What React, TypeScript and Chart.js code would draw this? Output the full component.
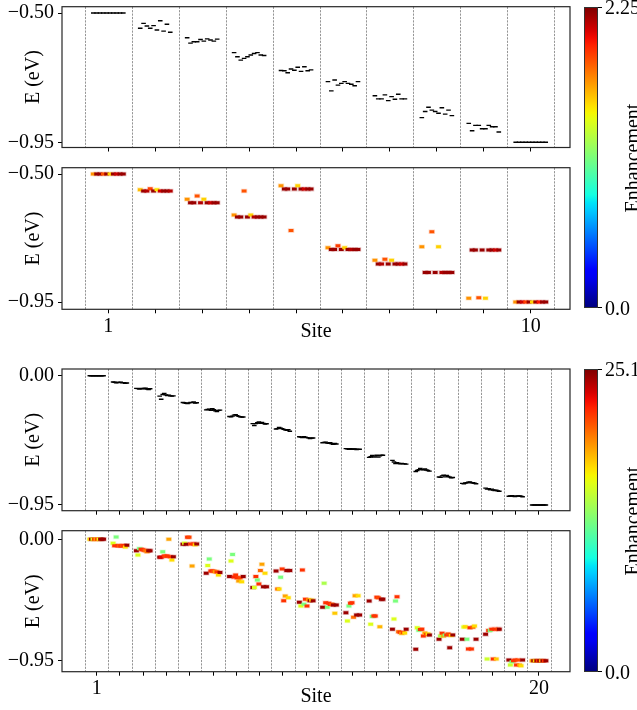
import React, { useEffect, useRef } from 'react';
import { Chart, registerables } from 'chart.js';

Chart.register(...registerables);

const FONT = "'Liberation Serif', 'Times New Roman', Times, serif";

// ---------------- data ----------------
const TOP_SITES = [1, 2, 3, 4, 5, 6, 7, 8, 9, 10];
const BOTTOM_SITES = [1, 2, 3, 4, 5, 6, 7, 8, 9, 10, 11, 12, 13, 14, 15, 16, 17, 18, 19, 20];
const TOP_Y_TICKS = [-0.95, -0.5];
const BOTTOM_Y_TICKS = [-0.95, 0.0];
const TOP_G_MAX = 2.25;
const BOTTOM_G_MAX = 25.1;
const TOP_G_LABELS = ['2.25', '0.0'];
const BOTTOM_G_LABELS = ['25.1', '0.0'];

// Panel A: bare energies, 10 sites
const E_BARE_10 = [
  [-0.5, -0.5, -0.5, -0.5, -0.5, -0.5, -0.5, -0.5, -0.5, -0.5],
  [-0.553, -0.536, -0.545, -0.553, -0.544, -0.559, -0.527, -0.563, -0.539, -0.567],
  [-0.586, -0.605, -0.6, -0.6, -0.592, -0.598, -0.59, -0.594, -0.598, -0.591],
  [-0.638, -0.652, -0.664, -0.658, -0.652, -0.646, -0.641, -0.638, -0.646, -0.648],
  [-0.7, -0.701, -0.708, -0.695, -0.699, -0.689, -0.703, -0.687, -0.701, -0.698],
  [-0.739, -0.771, -0.733, -0.751, -0.745, -0.739, -0.745, -0.748, -0.753, -0.739],
  [-0.788, -0.799, -0.799, -0.785, -0.805, -0.791, -0.8, -0.783, -0.799, -0.799],
  [-0.864, -0.843, -0.828, -0.838, -0.843, -0.849, -0.83, -0.852, -0.838, -0.857],
  [-0.884, -0.91, -0.891, -0.891, -0.903, -0.903, -0.891, -0.896, -0.896, -0.914],
  [-0.95, -0.95, -0.95, -0.95, -0.95, -0.95, -0.95, -0.95, -0.95, -0.95],
];

// Panel B: coupled energies + enhancement, 10 sites
const E_COUPLED_10 = [
  [-0.5, -0.5, -0.5, -0.5, -0.5, -0.5, -0.5, -0.5, -0.5, -0.5],
  [-0.555, -0.56, -0.56, -0.552, -0.56, -0.555, -0.56, -0.56, -0.56, -0.56],
  [-0.589, -0.601, -0.601, -0.577, -0.601, -0.589, -0.601, -0.601, -0.601, -0.601],
  [-0.644, -0.651, -0.651, -0.56, -0.651, -0.644, -0.651, -0.651, -0.651, -0.651],
  [-0.541, -0.553, -0.553, -0.699, -0.553, -0.541, -0.553, -0.553, -0.553, -0.553],
  [-0.759, -0.765, -0.765, -0.752, -0.765, -0.759, -0.765, -0.765, -0.765, -0.765],
  [-0.803, -0.816, -0.816, -0.8, -0.816, -0.803, -0.816, -0.816, -0.816, -0.816],
  [-0.756, -0.846, -0.846, -0.703, -0.846, -0.756, -0.846, -0.846, -0.846, -0.846],
  [-0.937, -0.767, -0.767, -0.935, -0.767, -0.937, -0.767, -0.767, -0.767, -0.767],
  [-0.95, -0.95, -0.95, -0.95, -0.95, -0.95, -0.95, -0.95, -0.95, -0.95],
];
const G_COUPLED_10 = [
  [1.7, 2.2, 2.2, 1.85, 2.2, 1.55, 2.2, 2.1, 2.2, 2.2],
  [1.6, 2.2, 2.15, 1.9, 2.2, 1.5, 2.1, 2.2, 2.2, 2.15],
  [1.7, 2.2, 2.2, 1.85, 2.15, 1.55, 2.2, 2.1, 2.2, 2.2],
  [1.7, 2.2, 2.2, 1.85, 2.2, 1.55, 2.15, 2.2, 2.2, 2.2],
  [1.7, 2.2, 2.2, 1.85, 2.2, 1.55, 2.2, 2.1, 2.2, 2.2],
  [1.7, 2.2, 2.2, 1.9, 2.2, 1.55, 2.2, 2.15, 2.2, 2.2],
  [1.7, 2.2, 2.15, 1.85, 2.2, 1.55, 2.2, 2.2, 2.1, 2.2],
  [1.7, 2.2, 2.2, 1.85, 2.2, 1.55, 2.15, 2.2, 2.2, 2.2],
  [1.7, 2.2, 2.2, 1.85, 2.2, 1.55, 2.2, 2.2, 2.1, 2.2],
  [1.7, 2.2, 2.1, 1.9, 2.2, 1.55, 2.2, 2.0, 2.2, 2.2],
];

// Panel C: bare energies, 20 sites
const E_BARE_20 = [
  [0, 0, 0, 0, 0, 0, 0, 0, 0, 0],
  [-0.046, -0.048, -0.052, -0.05, -0.049, -0.047, -0.053, -0.051, -0.055, -0.054],
  [-0.093, -0.095, -0.099, -0.093, -0.097, -0.094, -0.092, -0.098, -0.101, -0.096],
  [-0.15, -0.173, -0.138, -0.131, -0.141, -0.146, -0.143, -0.148, -0.15, -0.148],
  [-0.197, -0.199, -0.203, -0.205, -0.2, -0.196, -0.198, -0.193, -0.201, -0.199],
  [-0.251, -0.248, -0.246, -0.254, -0.242, -0.249, -0.257, -0.264, -0.255, -0.253],
  [-0.3, -0.302, -0.297, -0.29, -0.286, -0.293, -0.299, -0.302, -0.304, -0.303],
  [-0.352, -0.366, -0.352, -0.345, -0.34, -0.349, -0.343, -0.35, -0.356, -0.353],
  [-0.392, -0.389, -0.38, -0.386, -0.389, -0.394, -0.398, -0.402, -0.397, -0.408],
  [-0.448, -0.451, -0.455, -0.449, -0.452, -0.455, -0.457, -0.461, -0.459, -0.458],
  [-0.493, -0.49, -0.488, -0.495, -0.497, -0.492, -0.5, -0.504, -0.498, -0.502],
  [-0.536, -0.538, -0.54, -0.537, -0.541, -0.539, -0.538, -0.542, -0.541, -0.54],
  [-0.6, -0.595, -0.586, -0.598, -0.591, -0.584, -0.598, -0.589, -0.585, -0.584],
  [-0.622, -0.634, -0.645, -0.64, -0.644, -0.647, -0.645, -0.646, -0.648, -0.65],
  [-0.704, -0.697, -0.69, -0.682, -0.69, -0.692, -0.685, -0.693, -0.697, -0.701],
  [-0.744, -0.747, -0.736, -0.731, -0.743, -0.733, -0.74, -0.745, -0.75, -0.748],
  [-0.791, -0.794, -0.788, -0.786, -0.782, -0.78, -0.787, -0.786, -0.79, -0.794],
  [-0.826, -0.833, -0.83, -0.838, -0.833, -0.84, -0.843, -0.841, -0.846, -0.849],
  [-0.886, -0.884, -0.882, -0.886, -0.887, -0.885, -0.883, -0.884, -0.886, -0.889],
  [-0.95, -0.95, -0.95, -0.95, -0.95, -0.95, -0.95, -0.95, -0.95, -0.95],
];

// Panel D: coupled energies + enhancement, 20 sites
const E_COUPLED_20 = [
  [0, 0, 0, 0, 0, 0, 0, 0, 0, 0],
  [-0.031, -0.05, 0.018, -0.05, -0.05, -0.052, -0.05, -0.048, -0.06, -0.047],
  [-0.089, -0.123, -0.073, -0.078, -0.082, -0.085, -0.09, -0.097, -0.089, -0.089],
  [-0.141, -0.141, -0.097, -0.131, -0.133, -0.131, 0.0, -0.136, -0.162, -0.136],
  [-0.039, -0.031, -0.039, 0.016, 0.016, -0.036, -0.209, -0.036, -0.043, -0.036],
  [-0.266, -0.206, -0.154, -0.248, -0.248, -0.25, -0.253, -0.255, -0.279, -0.259],
  [-0.292, -0.17, -0.118, -0.296, -0.279, -0.3, -0.326, -0.3, -0.332, -0.292],
  [-0.378, -0.378, -0.292, -0.318, -0.35, -0.245, -0.196, -0.371, -0.266, -0.371],
  [-0.248, -0.389, -0.389, -0.297, -0.232, -0.48, -0.444, -0.245, -0.457, -0.245],
  [-0.493, -0.522, -0.24, -0.508, -0.47, -0.522, -0.474, -0.48, -0.476, -0.48],
  [-0.532, -0.344, -0.496, -0.532, -0.5, -0.51, -0.508, -0.514, -0.579, -0.514],
  [-0.574, -0.639, -0.522, -0.5, -0.496, -0.61, -0.441, -0.592, -0.441, -0.592],
  [-0.483, -0.665, -0.604, -0.6, -0.6, -0.454, -0.457, -0.684, -0.47, -0.47],
  [-0.704, -0.624, -0.483, -0.449, -0.723, -0.727, -0.736, -0.73, -0.733, -0.704],
  [-0.861, -0.692, -0.712, -0.706, -0.704, -0.757, -0.733, -0.745, -0.741, -0.749],
  [-0.782, -0.757, -0.736, -0.757, -0.749, -0.749, -0.741, -0.848, -0.752, -0.749],
  [-0.782, -0.686, -0.684, -0.782, -0.858, -0.692, -0.858, -0.688, -0.678, -0.782],
  [-0.744, -0.937, -0.713, -0.713, -0.703, -0.937, -0.703, -0.937, -0.703, -0.703],
  [-0.945, -0.984, -0.958, -0.95, -0.945, -0.984, -0.945, -0.984, -0.99, -0.945],
  [-0.95, -0.95, -0.95, -0.95, -0.95, -0.95, -0.95, -0.95, -0.95, -0.95],
];
const G_COUPLED_20 = [
  [17, 24.5, 15.5, 21.5, 18.5, 21.5, 16, 24.5, 24.5, 24.5],
  [15.5, 21.5, 12.5, 21.5, 20.5, 21.5, 21, 21.5, 17, 24.5],
  [24.5, 15.5, 12.5, 21.5, 21.5, 21, 20, 19.5, 24.5, 24.5],
  [24.5, 23, 12.5, 21.5, 21, 21.5, 18.5, 21.5, 17, 24.5],
  [24.5, 15.5, 24.5, 21.5, 21, 21.5, 18.5, 21.5, 17, 24.5],
  [24.5, 15.5, 12.5, 21.5, 21.5, 20.5, 18.5, 21.5, 17, 24.5],
  [24.5, 15.5, 12.5, 22, 21.5, 21.5, 18.5, 21, 17, 24.5],
  [24.5, 15.5, 21.5, 12.5, 21.5, 20, 18.5, 24.5, 17, 24.5],
  [24.5, 20, 17, 12.5, 21.5, 21.5, 18.5, 24.5, 17, 24.5],
  [24.5, 15.5, 21.5, 12.5, 21.5, 21.5, 18.5, 24.5, 17, 24.5],
  [24.5, 14, 21.5, 12.5, 21.5, 21.5, 20.5, 24.5, 17.5, 24.5],
  [24.5, 15.5, 12.5, 21.5, 21.5, 20, 18.5, 24.5, 17, 24.5],
  [24.5, 15.5, 12.5, 21.5, 21.5, 21.5, 21, 18, 24.5, 24.5],
  [24.5, 15.5, 12.5, 21.5, 20, 21.5, 18.5, 21, 17, 24.5],
  [24.5, 15.5, 12.5, 21.5, 21.5, 21.5, 18.5, 21, 17, 24.5],
  [24.5, 14, 21.5, 18.5, 12.5, 21.5, 21, 24.5, 17.5, 24.5],
  [24.5, 15.5, 17, 12.5, 21.5, 21.5, 21.5, 20, 17, 24.5],
  [24.5, 15, 21.5, 12.5, 21.5, 21.5, 21.5, 17.5, 21, 24.5],
  [24.5, 15, 12.5, 21.5, 21.5, 21.5, 21, 18.5, 17, 24.5],
  [18.5, 24.5, 17, 24.5, 21.5, 24.5, 18, 24.5, 21.5, 24.5],
];

// ---------------- colormap (matplotlib "jet") ----------------
const JET_R = [[0, 0], [0.35, 0], [0.66, 1], [0.89, 1], [1, 0.5]];
const JET_G = [[0, 0], [0.125, 0], [0.375, 1], [0.64, 1], [0.91, 0], [1, 0]];
const JET_B = [[0, 0.5], [0.11, 1], [0.34, 1], [0.65, 0], [1, 0]];
function seg(pts: number[][], t: number) {
  for (let i = 1; i < pts.length; i++) {
    if (t <= pts[i][0]) {
      const [x0, y0] = pts[i - 1];
      const [x1, y1] = pts[i];
      return y0 + ((y1 - y0) * (t - x0)) / (x1 - x0);
    }
  }
  return pts[pts.length - 1][1];
}
function jet(t: number, a = 1) {
  const c = Math.max(0, Math.min(1, t));
  const r = Math.round(seg(JET_R, c) * 255);
  const g = Math.round(seg(JET_G, c) * 255);
  const b = Math.round(seg(JET_B, c) * 255);
  return a >= 1 ? `rgb(${r},${g},${b})` : `rgba(${r},${g},${b},${a})`;
}

// ---------------- panels ----------------
type PanelSpec = {
  top: number;
  height: number;
  plotTop: number;
  plotBottom: number;
  sites: number[];
  xMin: number;
  xMax: number;
  spread: number;
  yMin: number;
  yMax: number;
  yTicks: number[];
  energies: number[][];
  gains?: number[][];
  gMax?: number;
  xLabels: boolean;
  titlePad: number;
};

const PANELS: PanelSpec[] = [
  {
    top: -16, height: 190, plotTop: 6.7, plotBottom: 147.5,
    sites: TOP_SITES, xMin: 0.0134, xMax: 10.837, spread: 0.64,
    yMin: -0.9681, yMax: -0.47807, yTicks: TOP_Y_TICKS,
    energies: E_BARE_10, xLabels: false, titlePad: 0,
  },
  {
    top: 146, height: 207, plotTop: 167.7, plotBottom: 309.3,
    sites: TOP_SITES, xMin: 0.0134, xMax: 10.837, spread: 0.64,
    yMin: -0.97566, yMax: -0.47785, yTicks: TOP_Y_TICKS,
    energies: E_COUPLED_10, gains: G_COUPLED_10, gMax: TOP_G_MAX, xLabels: true, titlePad: 8.8,
  },
  {
    top: 347, height: 190, plotTop: 369, plotBottom: 510.7,
    sites: BOTTOM_SITES, xMin: -0.4906, xMax: 21.332, spread: 0.59,
    yMin: -0.99188, yMax: 0.04923, yTicks: BOTTOM_Y_TICKS,
    energies: E_BARE_20, xLabels: false, titlePad: 0,
  },
  {
    top: 509, height: 201, plotTop: 530.7, plotBottom: 671.7,
    sites: BOTTOM_SITES, xMin: -0.4906, xMax: 21.332, spread: 0.59,
    yMin: -1.0361, yMax: 0.0673, yTicks: BOTTOM_Y_TICKS,
    energies: E_COUPLED_20, gains: G_COUPLED_20, gMax: BOTTOM_G_MAX, xLabels: true, titlePad: 1.7,
  },
];

function fmtE(v: number) {
  const s = Math.abs(v).toFixed(2);
  return v < -1e-9 ? '\u2212' + s : s;
}

function buildChart(canvas: HTMLCanvasElement, p: PanelSpec) {
  const pts: { x: number; y: number }[] = [];
  p.sites.forEach((s, i) => {
    const row = p.energies[i];
    const n = row.length;
    row.forEach((e, j) => {
      pts.push({ x: s + ((j - (n - 1) / 2) * p.spread) / (n - 1), y: e });
    });
  });
  const boundaries = [p.sites[0] - 0.5, ...p.sites.map((s) => s + 0.5)];
  const last = p.sites[p.sites.length - 1];
  const xH = p.top + p.height - p.plotBottom;
  const padT = p.plotTop - p.top;

  const datasets: any[] = [];
  if (p.gains && p.gMax) {
    const flat = p.gains.flat();
    datasets.push({
      data: pts,
      pointStyle: 'line',
      pointRadius: 2.4,
      pointBorderWidth: 3,
      pointBorderColor: flat.map((g) => jet(g / p.gMax!)),
      order: 1,
    });
    datasets.push({
      data: pts,
      pointStyle: 'line',
      pointRadius: 3.2,
      pointBorderWidth: 4.6,
      pointBorderColor: flat.map((g) => jet(g / p.gMax!, 0.22)),
      order: 2,
    });
  } else {
    datasets.push({
      data: pts,
      pointStyle: 'line',
      pointRadius: 2.3,
      pointBorderWidth: 1.4,
      pointBorderColor: '#000',
      order: 1,
    });
  }

  const decor = {
    id: 'decor',
    beforeDatasetsDraw(chart: any) {
      const { ctx, chartArea: a, scales } = chart;
      ctx.save();
      ctx.strokeStyle = '#8a8a8a';
      ctx.lineWidth = 0.9;
      ctx.setLineDash([2.2, 1.2]);
      boundaries.forEach((b) => {
        const x = Math.round(scales.x.getPixelForValue(b)) + 0.5;
        ctx.beginPath();
        ctx.moveTo(x, a.top);
        ctx.lineTo(x, a.bottom);
        ctx.stroke();
      });
      ctx.restore();
    },
    afterDraw(chart: any) {
      const { ctx, chartArea: a } = chart;
      ctx.save();
      ctx.strokeStyle = '#262626';
      ctx.lineWidth = 1.2;
      ctx.strokeRect(a.left, a.top, a.right - a.left, a.bottom - a.top);
      ctx.restore();
    },
  };

  const font = { family: FONT, size: 20 };
  return new Chart(canvas, {
    type: 'scatter',
    data: { datasets },
    options: {
      animation: false,
      responsive: false,
      maintainAspectRatio: false,
      devicePixelRatio: 1,
      events: [],
      layout: { padding: { top: padT, right: 67, bottom: 0, left: 0 } },
      plugins: { legend: { display: false }, tooltip: { enabled: false } },
      scales: {
        x: {
          type: 'linear',
          min: p.xMin,
          max: p.xMax,
          afterBuildTicks: (s: any) => {
            s.ticks = p.sites.map((v) => ({ value: v }));
          },
          afterFit: (s: any) => {
            s.height = xH;
          },
          ticks: {
            autoSkip: false,
            maxRotation: 0,
            minRotation: 0,
            padding: 1,
            color: '#000',
            font,
            callback: (v: any) => (p.xLabels && (v === 1 || v === last) ? String(v) : ''),
          },
          grid: { drawOnChartArea: false, drawTicks: true, tickLength: 4, color: '#000', lineWidth: 1 },
          border: { display: false },
          title: {
            display: p.xLabels,
            text: 'Site',
            color: '#000',
            font,
            padding: { top: 0, bottom: p.titlePad },
          },
        },
        y: {
          type: 'linear',
          min: p.yMin,
          max: p.yMax,
          afterBuildTicks: (s: any) => {
            s.ticks = p.yTicks.map((v) => ({ value: v }));
          },
          afterFit: (s: any) => {
            s.width = 62;
          },
          ticks: { padding: 4, color: '#000', font, callback: (v: any) => fmtE(Number(v)) },
          grid: { drawOnChartArea: false, drawTicks: true, tickLength: 4, color: '#000', lineWidth: 1 },
          border: { display: false },
          title: {
            display: true,
            text: 'E (eV)',
            color: '#000',
            font,
            padding: { top: 21.4, bottom: 0 },
          },
        },
      },
    } as any,
    plugins: [decor],
  });
}

function PanelCanvas({ spec }: { spec: PanelSpec }) {
  const ref = useRef<HTMLCanvasElement | null>(null);
  useEffect(() => {
    if (!ref.current) return;
    const chart = buildChart(ref.current, spec);
    return () => chart.destroy();
  }, [spec]);
  return (
    <canvas
      ref={ref}
      width={637}
      height={spec.height}
      style={{ position: 'absolute', left: 0, top: spec.top, width: 637, height: spec.height }}
    />
  );
}

const GRADIENT = (() => {
  const stops: string[] = [];
  for (let i = 0; i <= 40; i++) {
    const t = i / 40;
    stops.push(`${jet(t)} ${(t * 100).toFixed(1)}%`);
  }
  return `linear-gradient(to top, ${stops.join(', ')})`;
})();

function ColorBar({ top, bottom, labels }: { top: number; bottom: number; labels: string[] }) {
  const h = bottom - top;
  const txt: React.CSSProperties = {
    position: 'absolute',
    fontFamily: FONT,
    fontSize: 20,
    lineHeight: '24px',
    color: '#000',
    whiteSpace: 'nowrap',
  };
  return (
    <>
      <div
        style={{
          position: 'absolute',
          left: 584,
          top,
          width: 14,
          height: h,
          background: GRADIENT,
          border: '1px solid #333',
          boxSizing: 'border-box',
        }}
      />
      <div style={{ position: 'absolute', left: 598, top: top, width: 3.5, height: 1, background: '#000' }} />
      <div style={{ position: 'absolute', left: 598, top: bottom - 1, width: 3.5, height: 1, background: '#000' }} />
      <div style={{ ...txt, left: 605, top: top - 12 }}>{labels[0]}</div>
      <div style={{ ...txt, left: 605, top: bottom - 12 }}>{labels[1]}</div>
      <div
        style={{
          ...txt,
          left: 631.5,
          top: top + h / 2,
          transform: 'translate(-50%, -50%) rotate(-90deg)',
        }}
      >
        Enhancement
      </div>
    </>
  );
}

export default function App() {
  return (
    <div
      style={{
        position: 'absolute',
        left: 0,
        top: 0,
        width: 637,
        height: 710,
        overflow: 'hidden',
        background: '#fff',
      }}
    >
      {PANELS.map((p, i) => (
        <PanelCanvas key={i} spec={p} />
      ))}
      <ColorBar top={6.7} bottom={308.3} labels={TOP_G_LABELS} />
      <ColorBar top={369.3} bottom={672} labels={BOTTOM_G_LABELS} />
    </div>
  );
}
